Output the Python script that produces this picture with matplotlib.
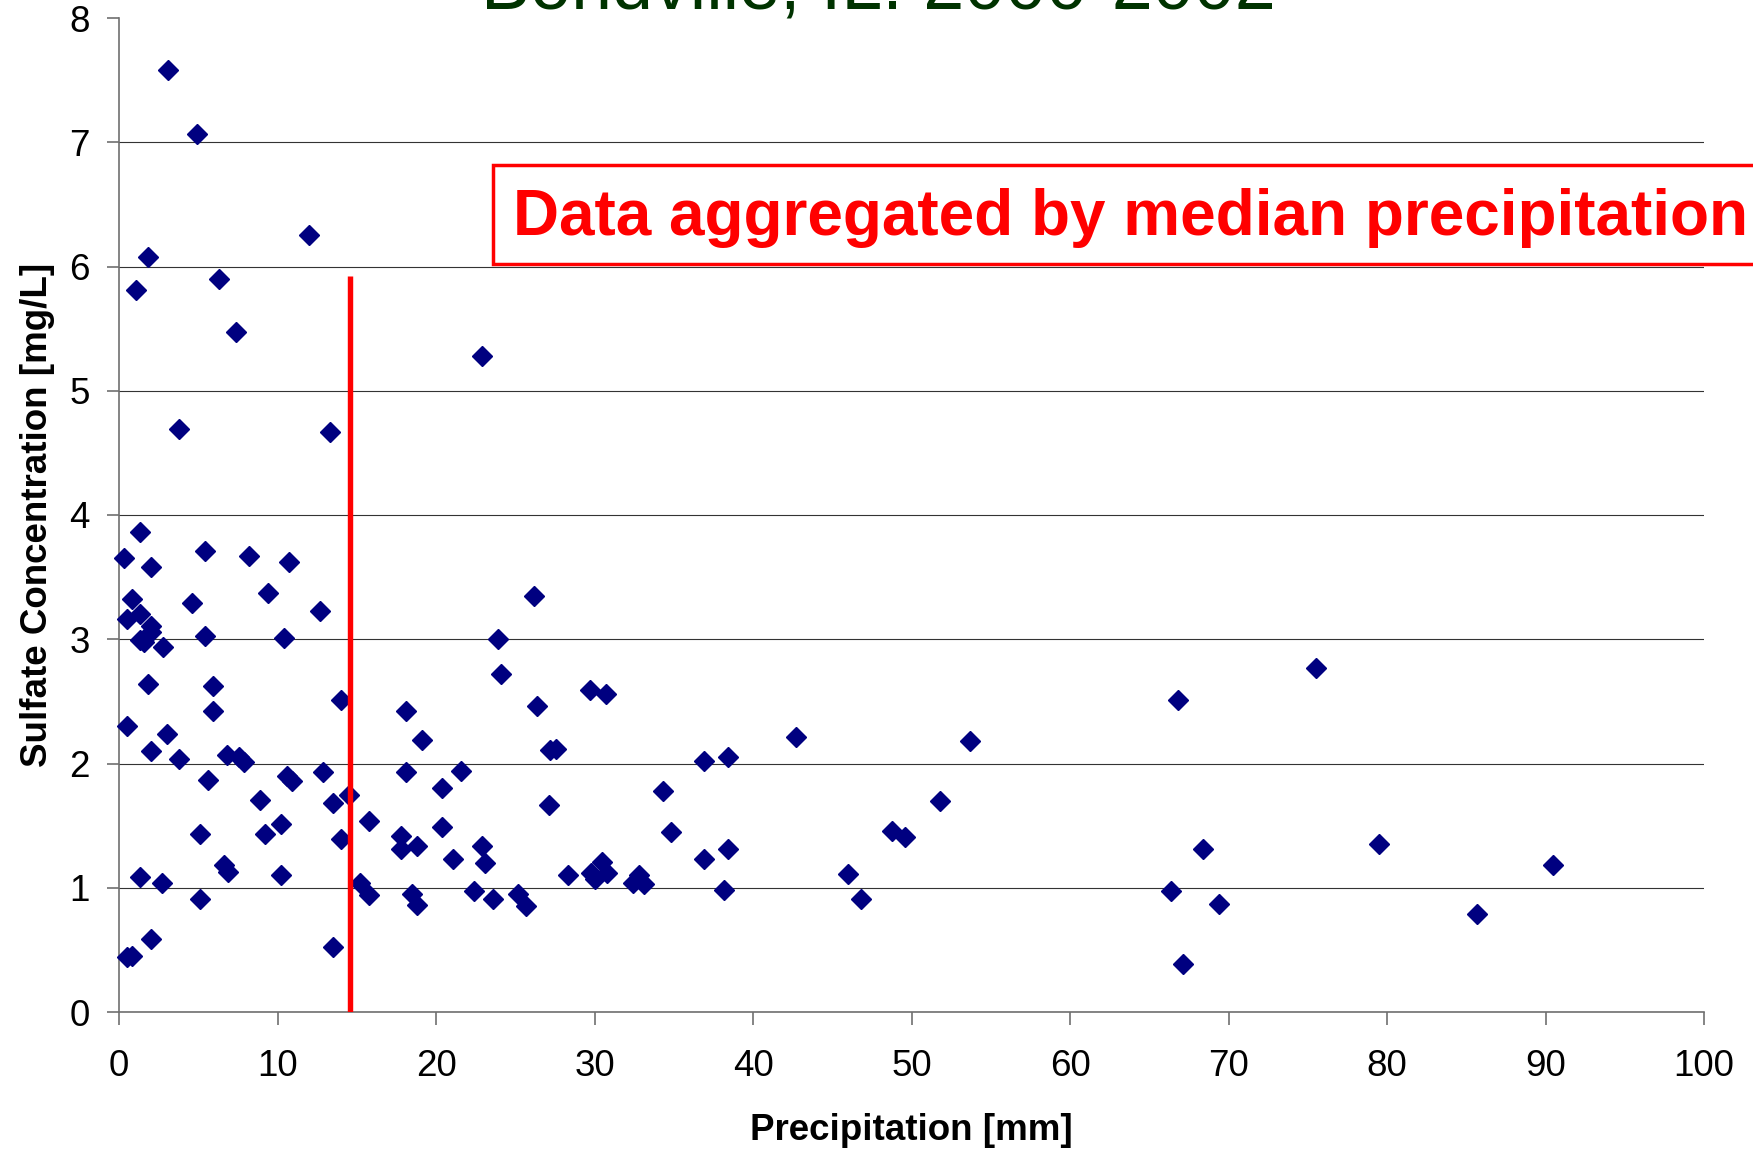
# Sulfate concentration vs precipitation, Bondville IL
import matplotlib
matplotlib.use("Agg")
import matplotlib.pyplot as plt
from matplotlib.patches import Rectangle

# Data
precip = [
    3.1, 4.9, 12.0, 1.8, 1.1, 6.3, 7.4, 22.9, 3.8, 13.3,
    1.3, 0.3, 2.0, 5.4, 8.2, 10.7, 9.4, 12.7, 4.6, 0.8,
    0.5, 1.3, 2.0, 2.0, 1.3, 1.6, 2.8, 5.4, 10.4, 26.2,
    23.9, 24.1, 1.8, 5.9, 5.9, 14.0, 26.4, 29.7, 30.7, 0.5,
    3.0, 2.0, 3.8, 6.8, 7.6, 7.9, 5.6, 8.9, 10.6, 10.9,
    12.9, 13.5, 14.5, 5.1, 9.2, 10.2, 14.0, 6.6, 6.9, 1.3,
    2.7, 10.2, 5.1, 2.0, 0.5, 0.8, 13.5,
    18.1, 19.1, 18.1, 21.6, 20.4, 15.8, 20.4, 17.8, 17.8, 18.8,
    21.1, 22.9, 23.1, 15.2, 15.8, 18.5, 18.8, 22.4, 23.6, 25.2,
    25.7, 27.1, 27.2, 27.6, 28.3, 29.8, 30.0, 30.5, 30.8, 32.4,
    32.8, 33.1, 34.3, 34.8, 36.9, 38.4, 36.9, 38.4, 38.2, 42.7,
    46.0, 46.8, 48.8, 49.6, 51.8, 53.7, 66.8, 66.4, 67.1, 68.4,
    69.4, 75.5, 79.5, 85.7, 90.5,
]
sulfate = [
    7.58, 7.07, 6.25, 6.08, 5.81, 5.90, 5.47, 5.28, 4.69, 4.67,
    3.86, 3.65, 3.58, 3.71, 3.67, 3.62, 3.37, 3.23, 3.29, 3.32,
    3.16, 3.20, 3.11, 3.06, 2.99, 2.98, 2.94, 3.03, 3.01, 3.35,
    3.00, 2.72, 2.64, 2.62, 2.42, 2.51, 2.46, 2.59, 2.56, 2.30,
    2.24, 2.10, 2.04, 2.07, 2.05, 2.01, 1.87, 1.71, 1.90, 1.86,
    1.93, 1.68, 1.75, 1.43, 1.43, 1.51, 1.39, 1.18, 1.13, 1.09,
    1.04, 1.10, 0.91, 0.59, 0.44, 0.45, 0.52,
    2.42, 2.19, 1.93, 1.94, 1.80, 1.54, 1.49, 1.42, 1.31, 1.34,
    1.23, 1.34, 1.20, 1.04, 0.94, 0.95, 0.86, 0.97, 0.91, 0.95,
    0.85, 1.67, 2.11, 2.12, 1.10, 1.12, 1.07, 1.21, 1.12, 1.04,
    1.10, 1.03, 1.78, 1.45, 2.02, 2.05, 1.23, 1.31, 0.98, 2.21,
    1.11, 0.91, 1.46, 1.41, 1.70, 2.18, 2.51, 0.97, 0.39, 1.31,
    0.87, 2.77, 1.35, 0.79, 1.18,
]
median_precip = 14.6
median_line_top = 5.92

title = "Bondville, IL: 2000-2002"
note = "Data aggregated by median precipitation"
xlabel = "Precipitation [mm]"
ylabel = "Sulfate Concentration [mg/L]"

plt.rcParams["font.family"] = ["Liberation Sans", "DejaVu Sans"]

W, H = 1753, 1149
fig = plt.figure(figsize=(W / 100, H / 100), dpi=100)
ax = fig.add_axes([119 / W, 1 - 1012 / H, (1704 - 119) / W, (1012 - 18) / H])

ax.set_xlim(0, 100)
ax.set_ylim(0, 8)
ax.set_xticks(range(0, 101, 10))
ax.set_yticks(range(0, 9))
ax.yaxis.grid(True, color="#333333", linewidth=0.8)
ax.get_ygridlines()[-1].set_visible(False)  # no line at the top
ax.set_axisbelow(True)

for side in ("top", "right"):
    ax.spines[side].set_visible(False)
for side in ("left", "bottom"):
    ax.spines[side].set_color("#707070")
    ax.spines[side].set_linewidth(1.2)
ax.tick_params(axis="both", direction="out", length=9, width=1.2,
               color="#707070", labelsize=26.5)
ax.tick_params(axis="y", pad=12)
ax.tick_params(axis="x", pad=18)

ax.plot(precip, sulfate, linestyle="none", marker="D", markersize=10.5,
        color="#000080", clip_on=False, zorder=3)
ax.plot([median_precip, median_precip], [0, median_line_top],
        color="#ff0000", linewidth=3.9, solid_capstyle="butt", zorder=4)

ax.set_xlabel(xlabel, fontsize=26.5, fontweight="bold")
ax.set_ylabel(ylabel, fontsize=26.5, fontweight="bold")
ax.xaxis.set_label_coords(0.5, -(1131 - 1012) / 994)
ax.yaxis.set_label_coords((38 - 119) / 1585, 0.5)
ax.xaxis.label.set_verticalalignment("center")
ax.yaxis.label.set_verticalalignment("center")

# Title, cut off at the top edge like the original slide
fig.text(878 / W, 1 - 8 / H, title, ha="center", va="baseline",
         fontsize=53, color="#003300")

# Red note box (runs off the right edge)
box = Rectangle((493 / W, 1 - 264 / H), (1900 - 493) / W, 99 / H,
                transform=fig.transFigure, facecolor="white",
                edgecolor="#ff0000", linewidth=2.5, zorder=5)
fig.patches.append(box)
fig.text(513 / W, 1 - 235 / H, note, ha="left", va="baseline",
         fontsize=46, fontweight="bold", color="#ff0000", zorder=6)

fig.savefig("out.png", dpi=100)
